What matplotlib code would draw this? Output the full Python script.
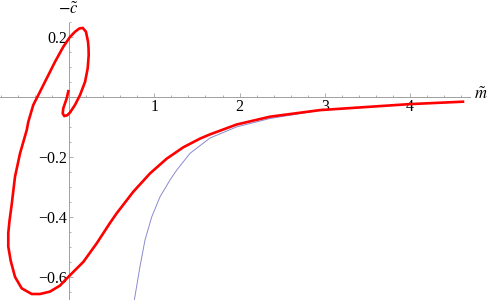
import matplotlib
matplotlib.use("Agg")
import matplotlib.pyplot as plt
from matplotlib.ticker import FixedLocator, NullFormatter

# フォントの指定 (Times風のセリフ体)
plt.rcParams["font.family"] = ["Liberation Serif", "DejaVu Serif"]
plt.rcParams["mathtext.fontset"] = "stix"

# 赤い曲線 (らせん部分から右へ伸びる曲線)
red_m = [-0.008, -0.027, -0.067, -0.074, -0.055, -0.020, 0.012, 0.070, 0.129, 0.188,
         0.219, 0.231, 0.229, 0.223, 0.199, 0.161, 0.121, 0.070, 0.012, -0.067, -0.164,
         -0.261, -0.360, -0.419, -0.477, -0.496, -0.574, -0.633, -0.672, -0.698, -0.712,
         -0.712, -0.683, -0.633, -0.555, -0.437, -0.340, -0.223, -0.106, -0.008, 0.168,
         0.325, 0.481, 0.559, 0.754, 0.950, 1.145, 1.340, 1.536, 1.653, 1.966, 2.356,
         2.943, 3.998, 4.619]
red_c = [0.018, -0.006, -0.039, -0.056, -0.065, -0.062, -0.053, -0.028, 0.005, 0.049,
         0.094, 0.138, 0.162, 0.183, 0.216, 0.229, 0.227, 0.216, 0.199, 0.166, 0.116,
         0.061, 0.005, -0.028, -0.084, -0.112, -0.189, -0.267, -0.360, -0.415, -0.455,
         -0.500, -0.548, -0.601, -0.639, -0.658, -0.658, -0.650, -0.630, -0.601, -0.551,
         -0.489, -0.421, -0.389, -0.317, -0.256, -0.207, -0.169, -0.140, -0.126, -0.093,
         -0.067, -0.045, -0.025, -0.017]

# 青い細い曲線 (漸近線)
blue_m = [0.750, 0.766, 0.832, 0.891, 0.970, 1.067, 1.184, 1.263, 1.419, 1.653,
          1.966, 2.356, 2.943, 3.998, 4.619]
blue_c = [-0.720, -0.678, -0.567, -0.478, -0.401, -0.334, -0.278, -0.245, -0.189, -0.138,
          -0.101, -0.073, -0.046, -0.025, -0.017]

x_major = [1, 2, 3, 4]
y_major = [-0.6, -0.4, -0.2, 0.2]

fig = plt.figure(figsize=(4.9, 3.0), dpi=100)
ax = fig.add_axes([0, 0, 1, 1])

ax.plot(blue_m, blue_c, color="#8a8ad0", lw=0.7, zorder=2)
ax.plot(red_m, red_c, color="#ff0000", lw=1.9, zorder=3, solid_joinstyle="round")

ax.set_xlim(-0.809, 4.936)
ax.set_ylim(-0.678, 0.322)

# 軸を原点に移動
for s in ["top", "right"]:
    ax.spines[s].set_visible(False)
ax.spines["left"].set_position(("data", 0))
ax.spines["bottom"].set_position(("data", 0))
ax.spines["left"].set_bounds(-0.678, 0.246)
ax.spines["bottom"].set_bounds(-0.809, 4.70)
for s in ["left", "bottom"]:
    ax.spines[s].set_color("#a0a0a0")
    ax.spines[s].set_linewidth(0.7)

# 目盛り
x_minor = [round(-0.8 + 0.2 * i, 2) for i in range(28)]
x_minor = [v for v in x_minor if abs(v - round(v)) > 1e-6]
y_minor = [round(-0.65 + 0.05 * i, 2) for i in range(19)]
y_minor = [v for v in y_minor if abs(v) > 1e-6 and round(v / 0.2, 6) % 1 != 0]

ax.xaxis.set_major_locator(FixedLocator(x_major))
ax.xaxis.set_minor_locator(FixedLocator(x_minor))
ax.yaxis.set_major_locator(FixedLocator(y_major))
ax.yaxis.set_minor_locator(FixedLocator(y_minor))
ax.xaxis.set_minor_formatter(NullFormatter())
ax.yaxis.set_minor_formatter(NullFormatter())
ax.set_xticklabels([str(v) for v in x_major])
ax.set_yticklabels(["\u2212" + str(abs(v)) if v < 0 else str(v) for v in y_major])

ax.tick_params(which="both", direction="in", color="#a0a0a0", width=0.6,
               labelsize=11.5, labelcolor="black")
ax.tick_params(which="major", length=3.0)
ax.tick_params(which="minor", length=1.6)
ax.tick_params(axis="x", pad=2)
ax.tick_params(axis="y", pad=1.5)

# 軸ラベル
fig.text(68.5 / 490, 1 - 10 / 300, r"$-\tilde{c}$", ha="center", va="center", fontsize=12)
fig.text(481 / 490, 1 - 95 / 300, r"$\tilde{m}$", ha="center", va="center", fontsize=12)

fig.savefig("out.png", dpi=100)
